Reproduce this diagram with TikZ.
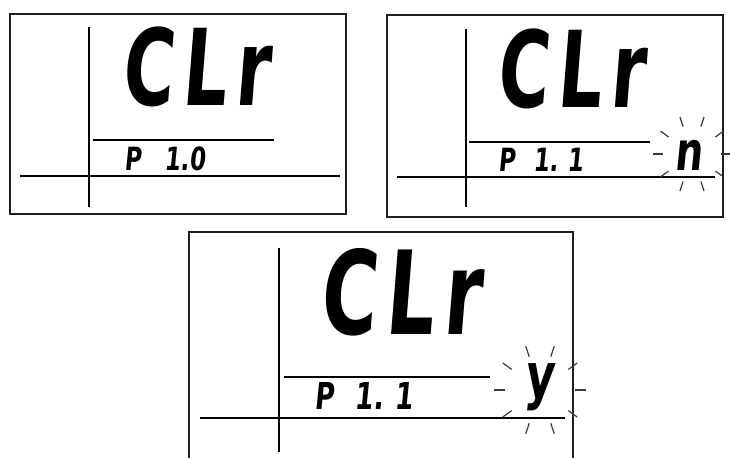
\documentclass[tikz,border=0pt]{standalone}
\usepackage{fontspec}
\usepackage{tikz}
\usepackage{xcolor}
\usetikzlibrary{calc}
\newfontfamily\segfont[FakeStretch=0.72,FakeSlant=0.10]{DejaVu Sans}
\newfontfamily\segbig[FakeStretch=0.66,FakeSlant=0.08,LetterSpace=8]{DejaVu Sans}
\definecolor{lcdink}{HTML}{000000}
\definecolor{lcdframe}{HTML}{1E1E1E}
\definecolor{lcdray}{HTML}{3A3A3A}
\tikzset{
  panelbox/.style={line width=1.1pt, lcdframe},
  lcdrule/.style={line width=0.8pt, lcdink},
  blinkray/.style={line width=0.6pt, lcdray},
  bigseg/.style={inner sep=0pt, lcdink, font=\segbig\bfseries\fontsize{53}{60}\selectfont},
  bigsegL/.style={inner sep=0pt, lcdink, font=\segbig\bfseries\fontsize{58}{66}\selectfont},
  smallseg/.style={inner sep=0pt, lcdink, font=\segfont\bfseries\fontsize{16}{19}\selectfont},
  smallsegL/.style={inner sep=0pt, lcdink, font=\segfont\bfseries\fontsize{18.5}{22}\selectfont},
}

\begin{document}
\begin{tikzpicture}[x=0.5pt,y=-0.5pt]
    \useasboundingbox (0,0) rectangle (730,457);

    % Panel 1: CLr, P 1.0
    \draw[panelbox] (10,14) rectangle (346,214);
    \draw[lcdrule] (89,27) -- (89,207);
    \draw[lcdrule] (20,176) -- (340,176);
    \draw[lcdrule] (93,140) -- (274,140);
    \node[bigseg] (clrA) at (195.5,67) {CLr};
    \node[smallseg] (parA) at (165,159) {P\hspace{0.45em} 1.0};

    % Panel 2: CLr, P 1.1, blinking n
    \draw[panelbox] (387,15) rectangle (723,217);
    \draw[lcdrule] (466,29) -- (466,207);
    \draw[lcdrule] (397,177) -- (715,177);
    \draw[lcdrule] (469,142) -- (650,142);
    \node[bigseg] (clrB) at (570.5,68.5) {CLr};
    \node[smallseg] (parB) at (541,160) {P\hspace{0.3em} 1.\hspace{0.3em}1};
    \node[smallseg, font=\segfont\bfseries\fontsize{27}{30}\selectfont] (valN) at (688.5,155) {n};
    \foreach \a in {0,36,...,324}
        \draw[blinkray] ($(692,154)+(\a:29)$) -- ($(692,154)+(\a:39)$);

    % Panel 3: CLr, P 1.1, blinking y (bottom edge runs off the page)
    \draw[panelbox] (189,460) -- (189,232) -- (573,232) -- (573,460);
    \draw[lcdrule] (279,248) -- (279,452);
    \draw[lcdrule] (200,418) -- (565,418);
    \draw[lcdrule] (284,377) -- (490,377);
    \node[bigsegL] (clrC) at (400,292.5) {CLr};
    \node[smallsegL] (parC) at (364,396.5) {P\hspace{0.3em} 1.\hspace{0.3em}1};
    \node[smallseg, font=\segfont\bfseries\fontsize{31}{34}\selectfont] (valY) at (539,387.5) {y};
    \foreach \a in {0,36,...,324}
        \draw[blinkray] ($(540,390)+(\a:35)$) -- ($(540,390)+(\a:46)$);
\end{tikzpicture}
\end{document}
